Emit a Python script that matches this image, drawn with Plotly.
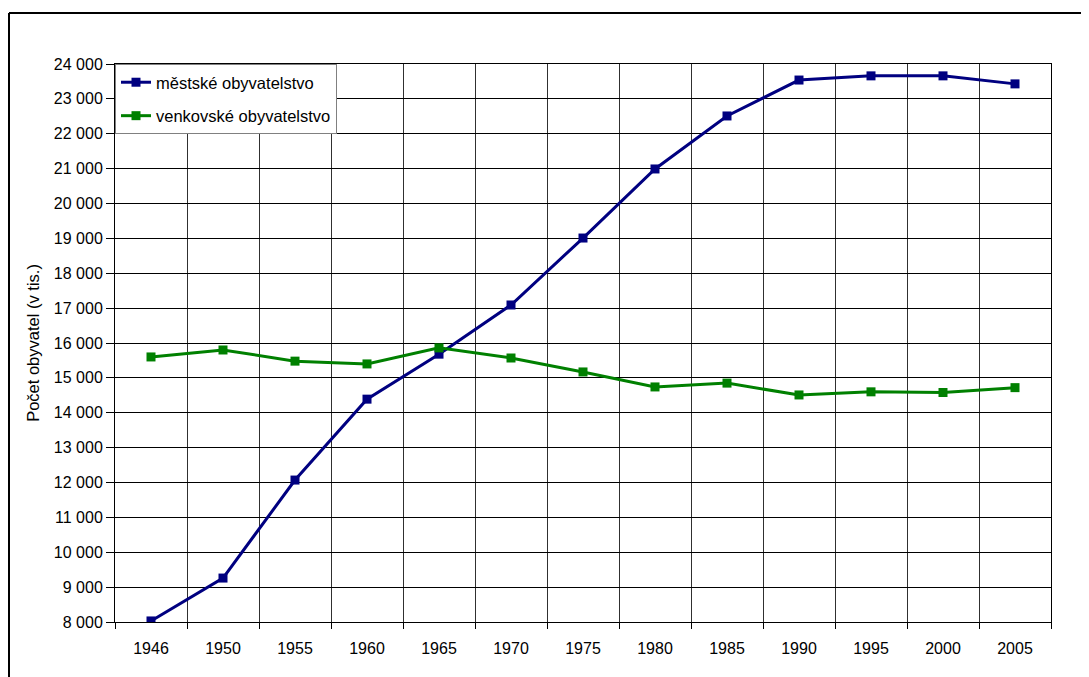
import plotly.graph_objects as go

years = ["1946", "1950", "1955", "1960", "1965", "1970", "1975", "1980", "1985", "1990", "1995", "2000", "2005"]
urban = [8030, 9260, 12070, 14390, 15680, 17090, 19010, 20990, 22510, 23540, 23660, 23660, 23430]
rural = [15600, 15800, 15480, 15400, 15860, 15570, 15170, 14740, 14850, 14510, 14600, 14580, 14720]
series_names = ["městské obyvatelstvo", "venkovské obyvatelstvo"]
y_title = "Počet obyvatel (v tis.)"

FONT = "Liberation Sans, Arial, sans-serif"
x_idx = list(range(len(years)))

fig = go.Figure()
fig.add_trace(go.Scatter(x=x_idx, y=urban, name=series_names[0], mode="lines+markers",
                         line=dict(color="#000080", width=3),
                         marker=dict(symbol="square", size=9, color="#000080"),
                         legendgroup="a"))
fig.add_trace(go.Scatter(x=x_idx, y=rural, name=series_names[1], mode="lines+markers",
                         line=dict(color="#008000", width=3),
                         marker=dict(symbol="square", size=9, color="#008000"),
                         legendgroup="b"))

OFF = 8  # page body margin
W, H = 1089 - OFF, 677 - OFF
L, R, T, B = 115 - OFF, 1051 - OFF, 64 - OFF, 622 - OFF
pw, ph = R - L, B - T

fig.update_layout(
    width=W, height=H,
    margin=dict(l=L, r=W - R, t=T, b=H - B, pad=0),
    paper_bgcolor="white", plot_bgcolor="white",
    font=dict(family=FONT, size=16, color="black"),
    separators=", ",
    showlegend=True,
    legend=dict(x=0, y=1, xanchor="left", yanchor="top",
                bgcolor="white", bordercolor="#808080", borderwidth=1,
                font=dict(size=16.5), traceorder="grouped", tracegroupgap=9,
                itemwidth=30),
)

fig.update_xaxes(
    range=[-0.5, len(years) - 0.5],
    tickmode="array", tickvals=x_idx, ticktext=years,
    ticks="outside", ticklen=12, tickcolor="rgba(0,0,0,0)",
    showgrid=False, zeroline=False,
    showline=True, linecolor="black", linewidth=1, mirror=True,
    minor=dict(tick0=0.5, dtick=1, showgrid=True, gridcolor="#303030", gridwidth=1,
               ticks="outside", ticklen=6, tickcolor="black"),
    tickfont=dict(size=16),
)
fig.update_yaxes(
    range=[8000, 24000], dtick=1000, tick0=8000, tickformat=",d",
    ticks="outside", ticklen=8, tickcolor="black",
    showgrid=True, gridcolor="black", gridwidth=1, zeroline=False,
    showline=True, linecolor="black", linewidth=1, mirror=True,
    title=dict(text=y_title, font=dict(size=16.5), standoff=10),
    tickfont=dict(size=16),
)

# outer chart border (top and left visible; right/bottom cut off)
bx = (9 - 115) / pw
by = 1 + (64 - 13) / ph
fig.add_shape(type="line", xref="paper", yref="paper", x0=bx, y0=by, x1=1.2, y1=by,
              line=dict(color="black", width=2))
fig.add_shape(type="line", xref="paper", yref="paper", x0=bx, y0=by, x1=bx, y1=-0.3,
              line=dict(color="black", width=2))

fig.write_html("out.html")
